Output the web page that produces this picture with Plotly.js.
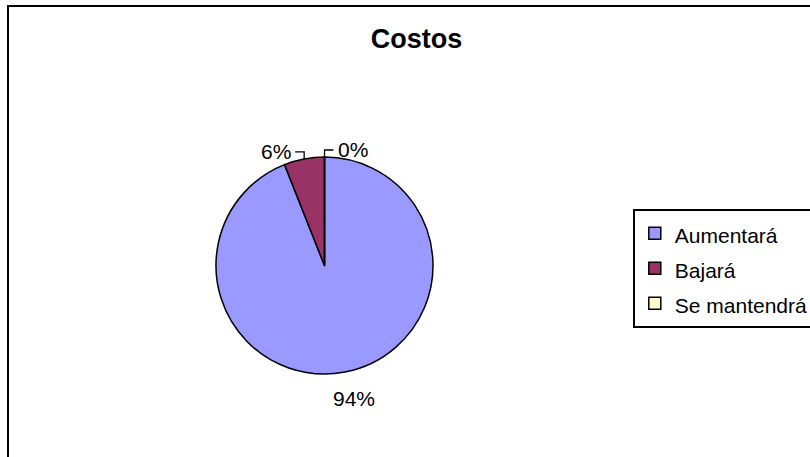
<!DOCTYPE html>
<html><head><meta charset="utf-8">
<script src="https://cdn.plot.ly/plotly-3.0.1.min.js"></script>
<style>html,body{margin:0;padding:0;background:#fff}</style>
</head><body>
<div id="chart" style="width:810px;height:457px"></div>
<script>
// ---- data ----
const chartTitle = 'Costos';
const categories = ['Aumentará', 'Bajará', 'Se mantendrá'];
const values = [94, 6, 0];
const sliceColors = ['#9999FF', '#993366', '#FFFFCC'];

// ---- layout constants ----
const W = 810, H = 457;
const FONT = 'Liberation Sans, Arial, sans-serif';
const pieCx = 324.5, pieCy = 265.5, pieR = 108.5;
const toPX = x => x / W;
const toPY = y => 1 - y / H;

const total = values.reduce((a, b) => a + b, 0);
const annotations = [];
const shapes = [];

// chart border (cropped at right and bottom)
shapes.push({type: 'rect', xref: 'paper', yref: 'paper',
  x0: toPX(8), x1: 1.2, y0: -0.2, y1: toPY(6),
  line: {color: '#000', width: 2}, fillcolor: 'rgba(0,0,0,0)'});

// percentage labels with leader lines, derived from the values
let cum = 0;
values.forEach((v, i) => {
  const mid = 2 * Math.PI * (cum + v / 2) / total;
  cum += v;
  const pct = Math.round(100 * v / total) + '%';
  const s = Math.sin(mid), c = Math.cos(mid);
  const ex = pieCx + pieR * s, ey = pieCy - pieR * c;
  if (c < -0.5) {
    const d = pieR + 27;
    annotations.push({xref: 'paper', yref: 'paper', showarrow: false,
      x: toPX(pieCx + d * s + 4), y: toPY(pieCy - d * c), xanchor: 'center', yanchor: 'middle',
      text: pct, font: {family: FONT, size: 21, color: '#000'}});
  } else {
    const side = s < -1e-6 ? -1 : 1;
    const ly = ey - 7;
    const lx = ex + side * 9;
    shapes.push({type: 'path', xref: 'paper', yref: 'paper',
      path: `M${toPX(ex)},${toPY(ey)} L${toPX(ex)},${toPY(ly)} L${toPX(lx)},${toPY(ly)}`,
      line: {color: '#000', width: 1.3}});
    annotations.push({xref: 'paper', yref: 'paper', showarrow: false,
      x: toPX(lx + side * 2), y: toPY(ly), xanchor: side < 0 ? 'right' : 'left', yanchor: 'middle',
      text: pct, font: {family: FONT, size: 21, color: '#000'}});
  }
});

const legendLabels = categories.map(l => `<span style="font-size:21px">${l}</span>`);

const trace = {
  type: 'pie',
  labels: legendLabels,
  values: values,
  sort: false,
  direction: 'clockwise',
  rotation: 0,
  textinfo: 'none',
  hoverinfo: 'label+percent',
  marker: {colors: sliceColors, line: {color: '#000', width: 1.5}},
  domain: {x: [toPX(pieCx - pieR), toPX(pieCx + pieR)], y: [toPY(pieCy + pieR), toPY(pieCy - pieR)]}
};

const layout = {
  width: W, height: H,
  margin: {l: 0, r: 0, t: 0, b: 0, autoexpand: false},
  paper_bgcolor: '#fff',
  title: {text: '<b>' + chartTitle + '</b>', x: toPX(416.5), xanchor: 'center',
    y: toPY(39), yanchor: 'middle', font: {family: FONT, size: 27, color: '#000'}},
  showlegend: true,
  legend: {x: toPX(633), xanchor: 'left', y: toPY(209), yanchor: 'top',
    bgcolor: '#fff', bordercolor: '#000', borderwidth: 1.8,
    font: {family: FONT, size: 24.6, color: '#000'}, itemwidth: 30},
  shapes: shapes,
  annotations: annotations
};

Plotly.newPlot('chart', [trace], layout, {displayModeBar: false, staticPlot: true});
</script>
</body></html>
